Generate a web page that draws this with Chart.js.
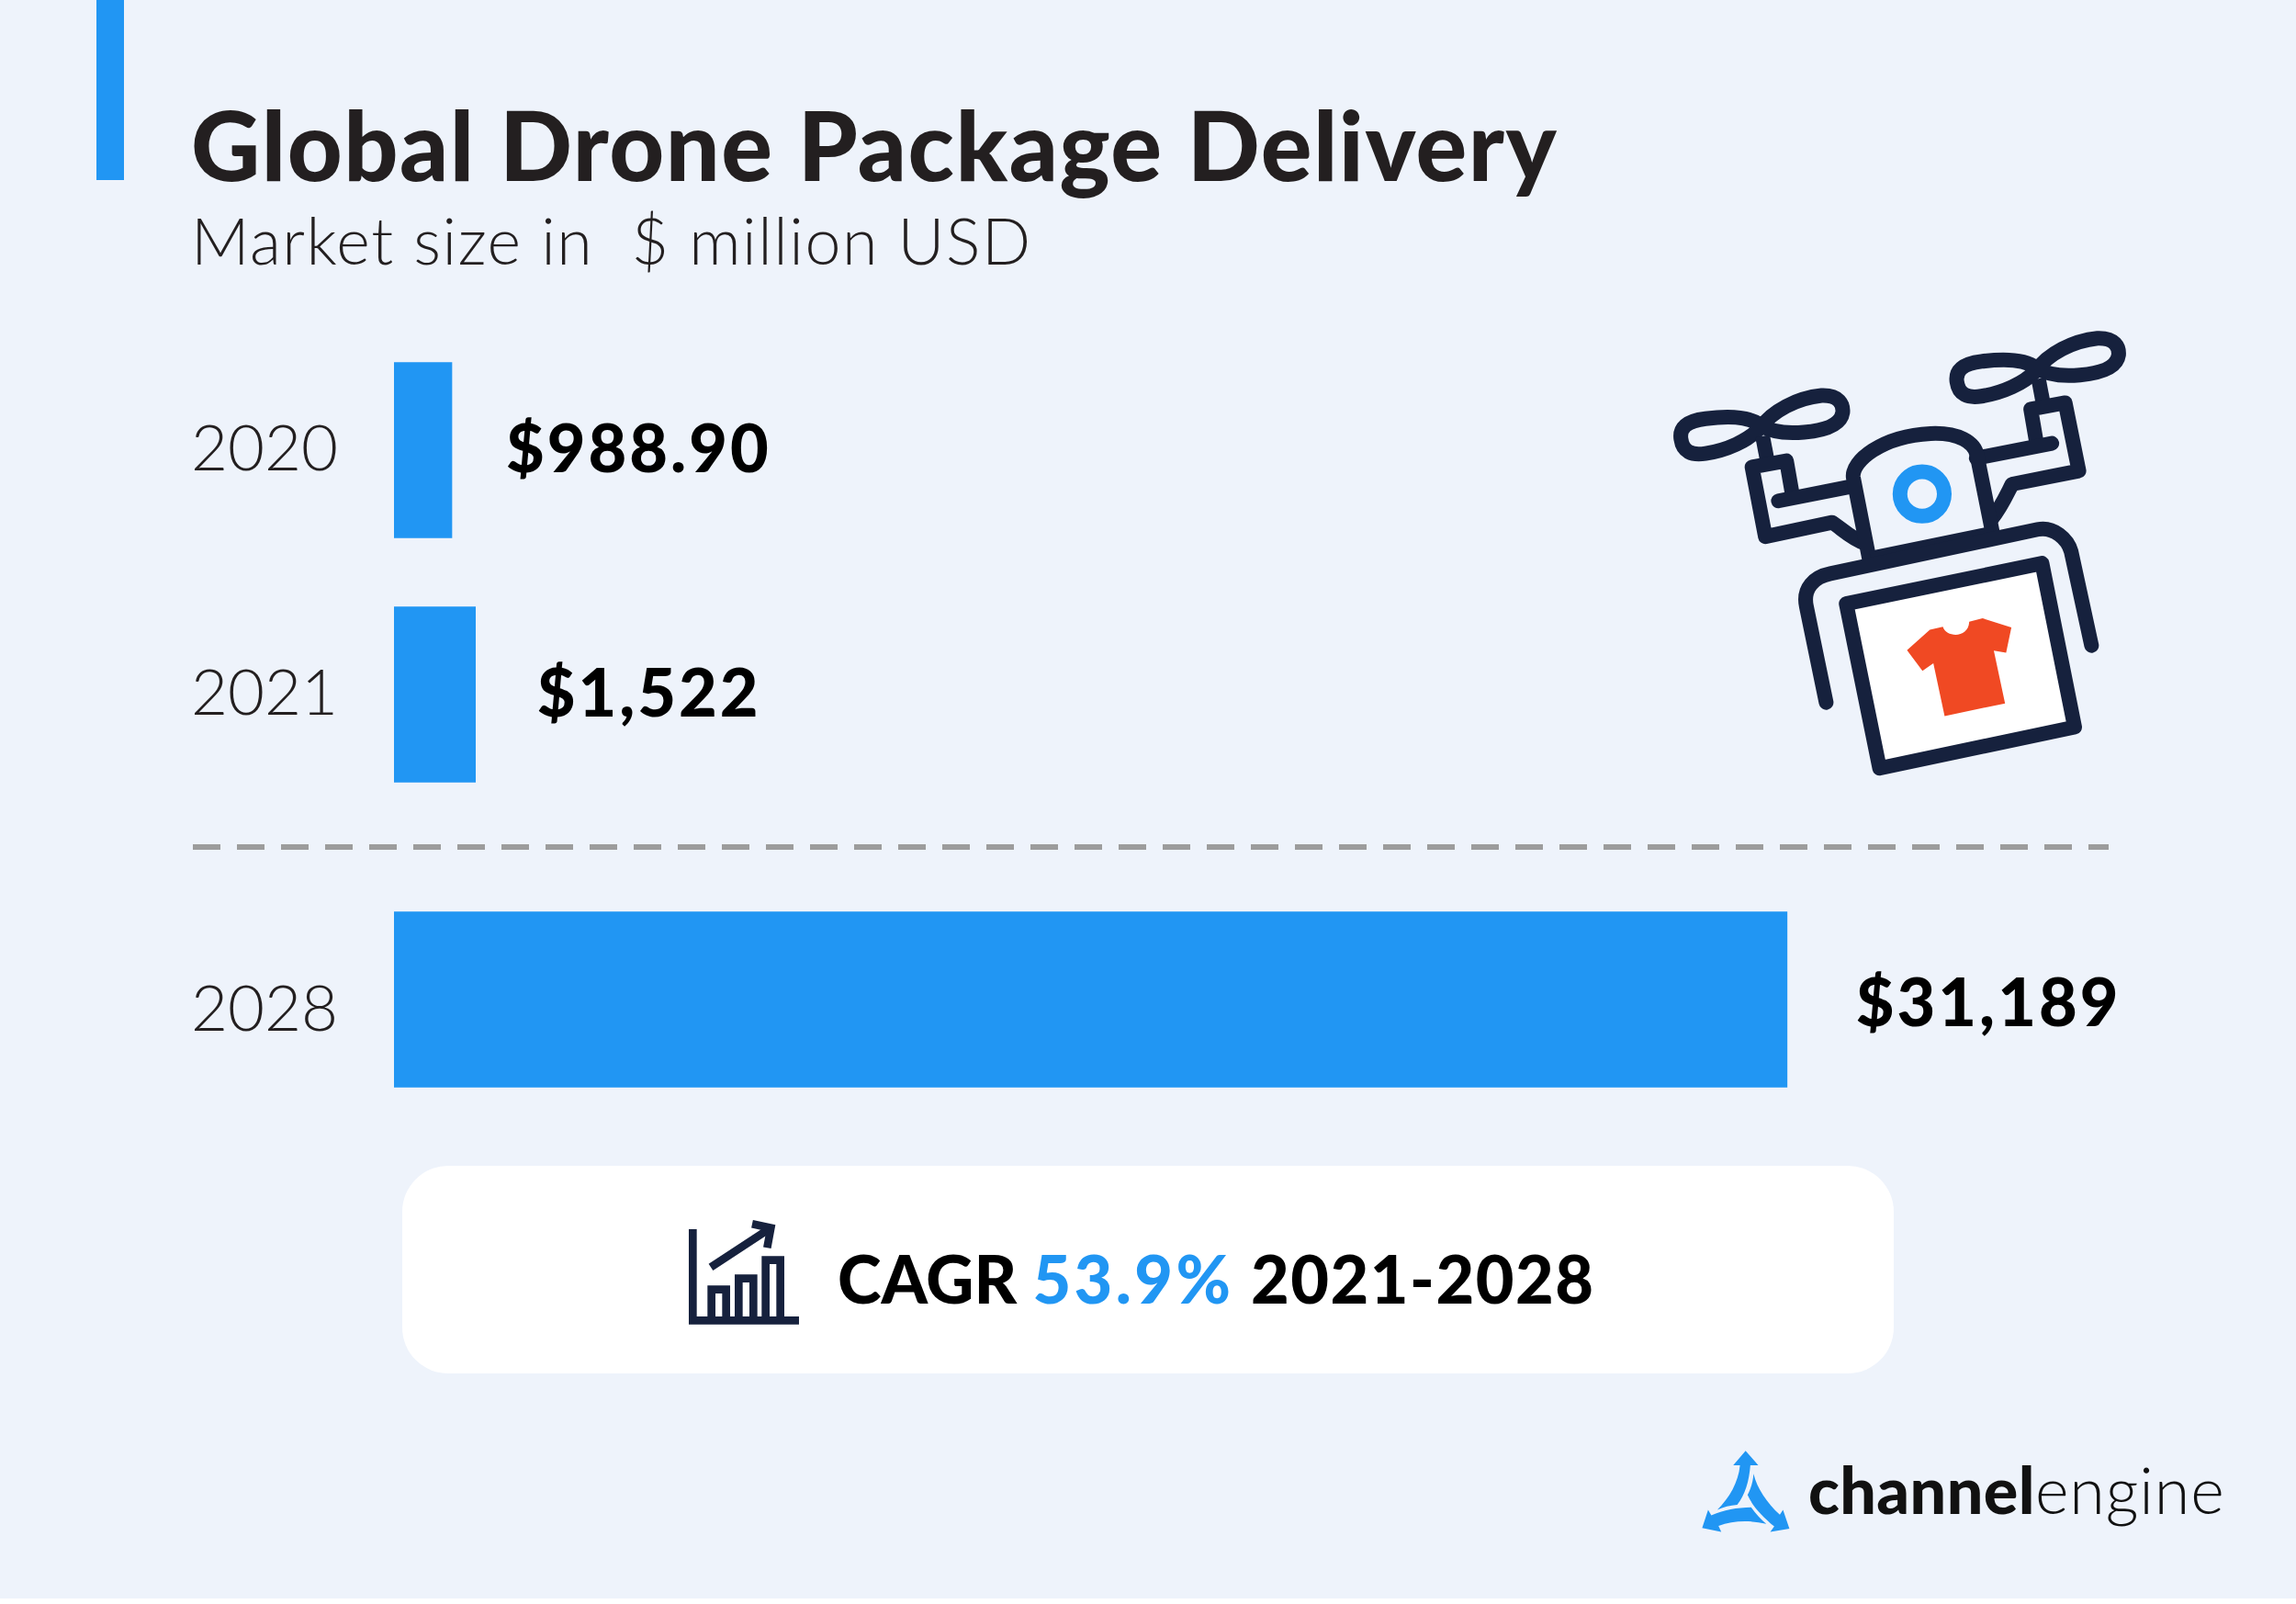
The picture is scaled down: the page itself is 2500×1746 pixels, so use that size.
<!DOCTYPE html>
<html>
<head>
<meta charset="utf-8">
<title>Global Drone Package Delivery</title>
<script src="https://cdn.jsdelivr.net/npm/chart.js@4"></script>
<style>
  html, body { margin: 0; padding: 0; background: #fff; }
  #page { position: relative; width: 2500px; height: 1740px; background: #eef3fb; overflow: hidden; font-family: Lato, sans-serif; }
  #page > * { position: absolute; }
  .accent { left: 105px; top: 0; width: 30px; height: 196px; background: #2196f3; }
  h1, h2, .txt { margin: 0; white-space: pre; line-height: 1; }
  h1 { left: 208px; top: 105px; font-size: 104px; font-weight: 900; letter-spacing: 1.5px; color: #231f20; }
  h2 { left: 208px; top: 226px; font-size: 70px; font-weight: 300; letter-spacing: 1.55px; color: #231f20; }
  .card { left: 438px; top: 1269px; width: 1624px; height: 226px; background: #fff; border-radius: 50px; }
  .cagr { left: 912px; top: 1355px; font-size: 72px; font-weight: 900; letter-spacing: 1.5px; color: #000; }
  .cagr i { font-style: normal; letter-spacing: 0; }
  .cagr b { color: #2196f3; font-weight: 900; letter-spacing: 3.4px; }
  .brand { left: 1969px; top: 1586px; font-size: 70px; font-weight: 900; letter-spacing: 0.4px; color: #111; }
  .brand span { font-weight: 300; letter-spacing: 0.9px; }
  svg { left: 0; top: 0; }
</style>
</head>
<body>
<div id="page">
  <div class="accent"></div>
  <h1>Global Drone Package Delivery</h1>
  <h2>Market size in  $ million USD</h2>

  <canvas id="chartPast" style="left:208px;top:357px" width="2162" height="532"></canvas>
  <canvas id="chartFuture" style="left:208px;top:955px" width="2162" height="266"></canvas>
  <div class="card"></div>

  <svg width="2500" height="1740" fill="none">
    <line x1="210" y1="922" x2="2296" y2="922" stroke="#9c9c9c" stroke-width="6" stroke-dasharray="30 18"/>

    <!-- drone, traced in crop coordinates -->
    <g transform="translate(1750 330) scale(0.3827 0.3444)" stroke="#16213d" stroke-width="16" stroke-linecap="round" stroke-linejoin="round">
      <g vector-effect="non-scaling-stroke">
        <g id="prop">
          <path vector-effect="non-scaling-stroke" d="M435,385 C400,355 330,358 280,365 C225,372 205,395 210,430 C215,470 240,482 280,475 C340,465 400,435 435,395 C470,340 540,300 610,292 C660,290 672,320 670,345 C665,385 620,402 560,408 C520,412 470,410 435,385 Z"/>
          <path vector-effect="non-scaling-stroke" stroke-linecap="butt" d="M442,420 L455,495"/>
        </g>
        <use href="#prop" x="785" y="-181"/>
        <path vector-effect="non-scaling-stroke" d="M526,600 L510,498 L412,518 L450,738 L640,693 C670,715 695,745 735,760"/>
        <path vector-effect="non-scaling-stroke" d="M487,625 L700,578"/>
        <path vector-effect="non-scaling-stroke" d="M1222,445 L1205,335 L1303,315 L1342,530 L1152,572 C1130,620 1118,650 1095,680"/>
        <path vector-effect="non-scaling-stroke" d="M1265,443 L1050,490"/>
        <path vector-effect="non-scaling-stroke" d="M745,805 L700,550 C695,500 780,420 920,412 C1000,408 1045,440 1052,480 L1098,735"/>
        <path vector-effect="non-scaling-stroke" stroke-width="17" stroke-linecap="butt" d="M750,808 L1100,728"/>
        <path vector-effect="non-scaling-stroke" d="M623,1262 L567,960 C555,900 590,865 635,855 L1225,715 C1270,705 1310,745 1320,785 L1378,1082"/>
        <path vector-effect="non-scaling-stroke" fill="#fff" d="M680,950 L1237,822 L1330,1340 L775,1470 Z"/>
        <ellipse vector-effect="non-scaling-stroke" cx="896" cy="603" rx="63" ry="70" stroke="#2196f3"/>
      </g>
      <path stroke="none" fill="#f04923" d="M918,1032 L955,1023 C965,1058 1028,1060 1030,1007 L1068,996 L1150,1025 L1135,1105 L1100,1098 L1132,1265 L960,1305 L928,1138 L897,1162 L853,1097 Z"/>
    </g>

    <!-- growth icon in the card -->
    <g transform="translate(700 1300) scale(0.3333)" stroke="#16213d" stroke-width="26">
      <path d="M163,114 V412 H510"/>
      <path d="M224,399 V311 H272 V399 M313,399 V275 H361 V399 M401,399 V215 H449 V399"/>
      <path d="M222,238 L405,118"/>
      <path d="M357,97 L418,110 L406,175"/>
    </g>

    <!-- channelengine mark -->
    <g transform="translate(1820 1550) scale(0.4337 0.3433)" fill="#2196f3">
      <path d="M186,85 L218,131 L198,131 C195,180 185,225 165,256 C148,258 130,263 115,272 C145,235 168,185 172,131 L155,131 Z"/>
      <path d="M206,158 C215,205 240,250 272,288 L280,272 L296,332 L248,342 L258,325 C230,295 205,265 191,225 C200,205 205,180 206,158 Z"/>
      <path d="M92,272 L100,290 C130,272 165,265 200,264 C212,285 225,303 238,317 C200,305 155,305 118,323 L125,342 L77,330 Z"/>
    </g>
  </svg>

  <div class="txt cagr"><i>CAGR </i><b>53.9%</b> 2021-2028</div>
  <div class="txt brand">channel<span>engine</span></div>
</div>

<script>
const years = ["2020", "2021", "2028"];
const marketSize = [988.9, 1522, 31189];
const valueLabels = ["$988.90", "$1,522", "$31,189"];

const BLUE = "#2196f3";
const AXIS_MIN = -320;   // the bars are not quite zero based in the original
const AXIS_MAX = 40000;

// writes "$988.90" etc. next to the bar end
const valueLabelPlugin = {
  id: "valueLabels",
  afterDatasetsDraw(chart, args, opts) {
    const ctx = chart.ctx;
    const bars = chart.getDatasetMeta(0).data;
    ctx.save();
    ctx.font = "900 72px Lato, sans-serif";
    ctx.fillStyle = "#000";
    ctx.textBaseline = "alphabetic";
    ctx.letterSpacing = "3px";
    bars.forEach((bar, i) => {
      ctx.fillText(opts.labels[i], bar.x + opts.gaps[i], bar.y + opts.rise);
    });
    ctx.restore();
  },
};

function barChart(id, labels, values, texts, opts) {
  return new Chart(document.getElementById(id), {
    type: "bar",
    plugins: [valueLabelPlugin],
    data: {
      labels,
      datasets: [{
        data: values,
        base: AXIS_MIN,
        backgroundColor: BLUE,
        barThickness: 191,
      }],
    },
    options: {
      indexAxis: "y",
      responsive: false,
      animation: false,
      devicePixelRatio: 1,
      layout: { padding: 0 },
      plugins: {
        legend: { display: false },
        tooltip: { enabled: false },
        valueLabels: { labels: texts, gaps: opts.gaps, rise: opts.rise },
      },
      scales: {
        x: { display: false, min: AXIS_MIN, max: AXIS_MAX },
        y: {
          border: { display: false },
          grid: { display: false, drawTicks: false },
          afterFit(scale) {
            scale.width = 221;
            // tick text must not shrink the plot area
            scale.paddingTop = 0;
            scale.paddingBottom = 0;
          },
          ticks: {
            crossAlign: "far",
            padding: 0,
            labelOffset: opts.labelOffset,
            color: "#231f20",
            font: { family: "Lato, sans-serif", size: 69, weight: "300" },
          },
        },
      },
    },
  });
}

barChart("chartPast", years.slice(0, 2), marketSize.slice(0, 2), valueLabels.slice(0, 2),
  { gaps: [59, 67], rise: 24, labelOffset: 0 });
barChart("chartFuture", years.slice(2), marketSize.slice(2), valueLabels.slice(2),
  { gaps: [75], rise: 29, labelOffset: 12 });
</script>
</body>
</html>
